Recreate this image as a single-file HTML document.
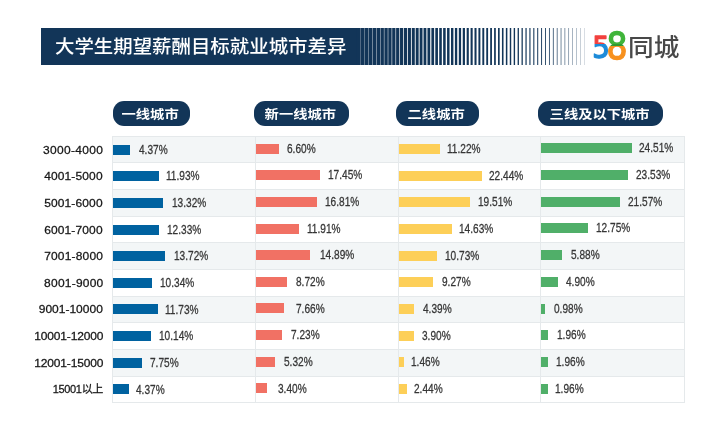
<!DOCTYPE html>
<html lang="zh-CN">
<head>
<meta charset="utf-8">
<title>大学生期望薪酬目标就业城市差异</title>
<style>
html,body{margin:0;padding:0;}
body{width:724px;height:429px;background:#fff;position:relative;overflow:hidden;font-family:"Liberation Sans","Noto Sans CJK SC",sans-serif;}
#wrap{position:absolute;left:0;top:0;width:724px;height:429px;will-change:transform;}
.abs{position:absolute;}
.banner{position:absolute;left:41px;top:27.5px;width:316px;height:37.5px;background:#123558;}
.title{position:absolute;left:55px;top:27.5px;height:37.5px;line-height:36.6px;color:#fff;font-size:19.43px;font-weight:500;white-space:nowrap;transform:scaleY(0.93);transform-origin:0 50%;}
.pill{position:absolute;top:101.3px;height:24.7px;border-radius:11px;background:#123558;}
.pill span{position:absolute;left:-1.3px;right:1.3px;top:0;height:24.7px;line-height:28.2px;color:#fff;font-size:14.3px;font-weight:700;text-align:center;white-space:nowrap;transform:scaleY(0.87);transform-origin:50% 50%;}
.row{position:absolute;left:112.5px;width:571.5px;box-sizing:border-box;border-top:1px solid #e5e9eb;}
.row.g{background:#f3f6f7;}
.vl{position:absolute;width:1px;background:#e5e9eb;}
.lab{position:absolute;right:620.6px;color:#161616;font-size:11px;line-height:14px;white-space:nowrap;text-align:right;-webkit-text-stroke:0.26px #161616;transform:scaleX(1.09);transform-origin:100% 50%;}
.bar{position:absolute;height:10px;}
.pct{position:absolute;color:#363636;font-size:13.3px;line-height:16px;white-space:nowrap;transform-origin:0 50%;transform:scaleX(0.76);-webkit-text-stroke:0.3px #363636;}
</style>
</head>
<body>
<div id="wrap">
<div class="banner"></div>
<svg class="abs" style="left:356px;top:27.5px" width="234" height="37.5" viewBox="356 0 234 37.5">
<rect x="356.90" y="0" width="3.77" height="37.5" fill="#123558"/><rect x="360.82" y="0" width="3.73" height="37.5" fill="#123558"/><rect x="364.74" y="0" width="3.68" height="37.5" fill="#123558"/><rect x="368.66" y="0" width="3.63" height="37.5" fill="#123558"/><rect x="372.58" y="0" width="3.58" height="37.5" fill="#123558"/><rect x="376.50" y="0" width="3.53" height="37.5" fill="#123558"/><rect x="380.42" y="0" width="3.47" height="37.5" fill="#123558"/><rect x="384.34" y="0" width="3.42" height="37.5" fill="#123558"/>
<rect x="388.26" y="0" width="3.36" height="37.5" fill="#123558"/><rect x="392.18" y="0" width="3.31" height="37.5" fill="#123558"/><rect x="396.10" y="0" width="3.25" height="37.5" fill="#123558"/><rect x="400.02" y="0" width="3.19" height="37.5" fill="#123558"/><rect x="403.94" y="0" width="3.13" height="37.5" fill="#123558"/><rect x="407.86" y="0" width="3.08" height="37.5" fill="#123558"/><rect x="411.78" y="0" width="3.02" height="37.5" fill="#123558"/><rect x="415.70" y="0" width="2.96" height="37.5" fill="#123558"/>
<rect x="419.62" y="0" width="2.90" height="37.5" fill="#123558"/><rect x="423.54" y="0" width="2.84" height="37.5" fill="#123558"/><rect x="427.46" y="0" width="2.78" height="37.5" fill="#123558"/><rect x="431.38" y="0" width="2.72" height="37.5" fill="#123558"/><rect x="435.30" y="0" width="2.65" height="37.5" fill="#123558"/><rect x="439.22" y="0" width="2.59" height="37.5" fill="#123558"/><rect x="443.14" y="0" width="2.53" height="37.5" fill="#123558"/><rect x="447.06" y="0" width="2.47" height="37.5" fill="#123558"/>
<rect x="450.98" y="0" width="2.41" height="37.5" fill="#123558"/><rect x="454.90" y="0" width="2.34" height="37.5" fill="#123558"/><rect x="458.82" y="0" width="2.28" height="37.5" fill="#123558"/><rect x="462.74" y="0" width="2.22" height="37.5" fill="#123558"/><rect x="466.66" y="0" width="2.15" height="37.5" fill="#123558"/><rect x="470.58" y="0" width="2.09" height="37.5" fill="#123558"/><rect x="474.50" y="0" width="2.03" height="37.5" fill="#123558"/><rect x="478.42" y="0" width="1.96" height="37.5" fill="#123558"/>
<rect x="482.34" y="0" width="1.90" height="37.5" fill="#123558"/><rect x="486.26" y="0" width="1.83" height="37.5" fill="#123558"/><rect x="490.18" y="0" width="1.77" height="37.5" fill="#123558"/><rect x="494.10" y="0" width="1.70" height="37.5" fill="#123558"/><rect x="498.02" y="0" width="1.64" height="37.5" fill="#123558"/><rect x="501.94" y="0" width="1.57" height="37.5" fill="#123558"/><rect x="505.86" y="0" width="1.51" height="37.5" fill="#123558"/><rect x="509.78" y="0" width="1.44" height="37.5" fill="#123558"/>
<rect x="513.70" y="0" width="1.38" height="37.5" fill="#123558"/><rect x="517.62" y="0" width="1.31" height="37.5" fill="#123558"/><rect x="521.54" y="0" width="1.25" height="37.5" fill="#123558"/><rect x="525.46" y="0" width="1.18" height="37.5" fill="#123558"/><rect x="529.38" y="0" width="1.11" height="37.5" fill="#123558"/><rect x="533.30" y="0" width="1.05" height="37.5" fill="#123558"/><rect x="537.22" y="0" width="0.98" height="37.5" fill="#123558"/><rect x="541.14" y="0" width="0.91" height="37.5" fill="#123558"/>
<rect x="545.06" y="0" width="0.85" height="37.5" fill="#123558"/><rect x="548.98" y="0" width="0.78" height="37.5" fill="#123558"/><rect x="552.90" y="0" width="0.71" height="37.5" fill="#123558"/><rect x="556.82" y="0" width="0.64" height="37.5" fill="#123558"/><rect x="560.74" y="0" width="0.58" height="37.5" fill="#123558"/><rect x="564.66" y="0" width="0.51" height="37.5" fill="#123558"/><rect x="568.58" y="0" width="0.44" height="37.5" fill="#123558"/><rect x="572.50" y="0" width="0.37" height="37.5" fill="#123558"/>
<rect x="576.42" y="0" width="0.31" height="37.5" fill="#123558"/><rect x="580.34" y="0" width="0.24" height="37.5" fill="#123558"/><rect x="584.26" y="0" width="0.17" height="37.5" fill="#123558"/></svg>
<div class="title">大学生期望薪酬目标就业城市差异</div>
<svg class="abs" style="left:588px;top:26px" width="100" height="40" viewBox="588 26 100 40">
<defs>
<linearGradient id="g5" gradientUnits="userSpaceOnUse" x1="0" y1="26" x2="0" y2="66"><stop offset="0.445" stop-color="#f2403d"/><stop offset="0.445" stop-color="#1d8bd9"/></linearGradient>
<linearGradient id="g8" gradientUnits="userSpaceOnUse" x1="0" y1="26" x2="0" y2="66"><stop offset="0.44" stop-color="#3fb43a"/><stop offset="0.44" stop-color="#2f9a30"/><stop offset="0.49" stop-color="#2f9a30"/><stop offset="0.49" stop-color="#f7911e"/></linearGradient>
</defs>
<text font-family="DejaVu Sans, sans-serif" stroke-width="1.4" stroke-linejoin="round"><tspan x="592.2" y="57.6" font-size="29.8" fill="url(#g5)" stroke="url(#g5)" textLength="17.6" lengthAdjust="spacingAndGlyphs">5</tspan><tspan x="606.4" y="59.3" font-size="36.4" fill="url(#g8)" stroke="url(#g8)" textLength="21" lengthAdjust="spacingAndGlyphs">8</tspan></text>
<text x="628.1" y="56.5" font-family="Liberation Sans, Noto Sans CJK SC, sans-serif" font-weight="500" font-size="25.7" fill="#484848" transform="translate(0,47) scale(1,0.93) translate(0,-47)">同城</text>
</svg>
<div class="pill" style="left:112.6px;width:77.6px"><span>一线城市</span></div>
<div class="pill" style="left:253.9px;width:95.5px"><span>新一线城市</span></div>
<div class="pill" style="left:395.9px;width:83.1px"><span>二线城市</span></div>
<div class="pill" style="left:538.4px;width:125.1px"><span>三线及以下城市</span></div>
<div class="row g" style="top:135.80px;height:26.66px"></div>
<div class="row" style="top:162.46px;height:26.66px"></div>
<div class="row g" style="top:189.12px;height:26.66px"></div>
<div class="row" style="top:215.78px;height:26.66px"></div>
<div class="row g" style="top:242.44px;height:26.66px"></div>
<div class="row" style="top:269.10px;height:26.66px"></div>
<div class="row g" style="top:295.76px;height:26.66px"></div>
<div class="row" style="top:322.42px;height:26.66px"></div>
<div class="row g" style="top:349.08px;height:26.66px"></div>
<div class="row" style="top:375.74px;height:26.66px"></div>
<div class="row" style="top:402.40px;height:1px"></div>
<div class="vl" style="left:112.0px;top:135.80px;height:267.60px"></div>
<div class="vl" style="left:254.5px;top:135.80px;height:267.60px"></div>
<div class="vl" style="left:397.5px;top:135.80px;height:267.60px"></div>
<div class="vl" style="left:540.0px;top:135.80px;height:267.60px"></div>
<div class="vl" style="left:683.5px;top:135.80px;height:267.60px"></div>
<div class="lab" style="top:142.53px;letter-spacing:0.30px;right:620.60px">3000-4000</div>
<div class="bar" style="left:113.0px;top:144.55px;width:16.7px;background:#0062a0"></div><div class="pct" style="left:139.20px;top:141.65px">4.37%</div>
<div class="bar" style="left:255.5px;top:143.65px;width:23.9px;background:#f17164"></div><div class="pct" style="left:286.70px;top:140.75px">6.60%</div>
<div class="bar" style="left:398.8px;top:143.95px;width:40.9px;background:#fdcf58"></div><div class="pct" style="left:446.90px;top:141.05px">11.22%</div>
<div class="bar" style="left:541.3px;top:143.20px;width:90.8px;background:#50af69"></div><div class="pct" style="left:639.10px;top:140.30px">24.51%</div>
<div class="lab" style="top:169.19px;letter-spacing:0.12px;right:621.30px">4001-5000</div>
<div class="bar" style="left:113.0px;top:171.21px;width:45.7px;background:#0062a0"></div><div class="pct" style="left:166.20px;top:168.31px">11.93%</div>
<div class="bar" style="left:255.5px;top:170.29px;width:64.5px;background:#f17164"></div><div class="pct" style="left:328.40px;top:167.39px">17.45%</div>
<div class="bar" style="left:398.8px;top:170.62px;width:83.2px;background:#fdcf58"></div><div class="pct" style="left:489.10px;top:167.72px">22.44%</div>
<div class="bar" style="left:541.3px;top:169.92px;width:86.9px;background:#50af69"></div><div class="pct" style="left:635.80px;top:167.02px">23.53%</div>
<div class="lab" style="top:195.85px;letter-spacing:0.12px;right:621.30px">5001-6000</div>
<div class="bar" style="left:113.0px;top:197.86px;width:50.3px;background:#0062a0"></div><div class="pct" style="left:171.70px;top:194.96px">13.32%</div>
<div class="bar" style="left:255.5px;top:196.93px;width:61.3px;background:#f17164"></div><div class="pct" style="left:324.60px;top:194.03px">16.81%</div>
<div class="bar" style="left:398.8px;top:197.29px;width:71.1px;background:#fdcf58"></div><div class="pct" style="left:478.30px;top:194.39px">19.51%</div>
<div class="bar" style="left:541.3px;top:196.64px;width:78.7px;background:#50af69"></div><div class="pct" style="left:628.00px;top:193.74px">21.57%</div>
<div class="lab" style="top:222.51px;letter-spacing:0.12px;right:621.30px">6001-7000</div>
<div class="bar" style="left:113.0px;top:224.52px;width:45.7px;background:#0062a0"></div><div class="pct" style="left:166.60px;top:221.62px">12.33%</div>
<div class="bar" style="left:255.5px;top:223.57px;width:43.7px;background:#f17164"></div><div class="pct" style="left:306.60px;top:220.67px">11.91%</div>
<div class="bar" style="left:398.8px;top:223.96px;width:53.4px;background:#fdcf58"></div><div class="pct" style="left:459.20px;top:221.06px">14.63%</div>
<div class="bar" style="left:541.3px;top:223.36px;width:46.6px;background:#50af69"></div><div class="pct" style="left:595.70px;top:220.46px">12.75%</div>
<div class="lab" style="top:249.17px;letter-spacing:0.17px;right:620.80px">7001-8000</div>
<div class="bar" style="left:113.0px;top:251.17px;width:52.4px;background:#0062a0"></div><div class="pct" style="left:173.70px;top:248.27px">13.72%</div>
<div class="bar" style="left:255.5px;top:250.21px;width:54.9px;background:#f17164"></div><div class="pct" style="left:319.60px;top:247.31px">14.89%</div>
<div class="bar" style="left:398.8px;top:250.63px;width:38.7px;background:#fdcf58"></div><div class="pct" style="left:444.60px;top:247.73px">10.73%</div>
<div class="bar" style="left:541.3px;top:250.08px;width:20.9px;background:#50af69"></div><div class="pct" style="left:570.60px;top:247.18px">5.88%</div>
<div class="lab" style="top:275.83px;letter-spacing:0.21px;right:620.60px">8001-9000</div>
<div class="bar" style="left:113.0px;top:277.83px;width:39.0px;background:#0062a0"></div><div class="pct" style="left:159.90px;top:274.93px">10.34%</div>
<div class="bar" style="left:255.5px;top:276.85px;width:31.4px;background:#f17164"></div><div class="pct" style="left:296.00px;top:273.95px">8.72%</div>
<div class="bar" style="left:398.8px;top:277.30px;width:34.1px;background:#fdcf58"></div><div class="pct" style="left:441.80px;top:274.40px">9.27%</div>
<div class="bar" style="left:541.3px;top:276.80px;width:16.7px;background:#50af69"></div><div class="pct" style="left:565.80px;top:273.90px">4.90%</div>
<div class="lab" style="top:302.49px;letter-spacing:0.01px;right:621.10px">9001-10000</div>
<div class="bar" style="left:113.0px;top:304.48px;width:44.8px;background:#0062a0"></div><div class="pct" style="left:164.90px;top:301.58px">11.73%</div>
<div class="bar" style="left:255.5px;top:303.49px;width:28.1px;background:#f17164"></div><div class="pct" style="left:295.50px;top:300.59px">7.66%</div>
<div class="bar" style="left:398.8px;top:303.97px;width:15.7px;background:#fdcf58"></div><div class="pct" style="left:422.70px;top:301.07px">4.39%</div>
<div class="bar" style="left:541.3px;top:303.52px;width:3.4px;background:#50af69"></div><div class="pct" style="left:553.80px;top:300.62px">0.98%</div>
<div class="lab" style="top:329.15px;letter-spacing:-0.15px;right:621.00px">10001-12000</div>
<div class="bar" style="left:113.0px;top:331.13px;width:38.1px;background:#0062a0"></div><div class="pct" style="left:159.10px;top:328.24px">10.14%</div>
<div class="bar" style="left:255.5px;top:330.13px;width:26.1px;background:#f17164"></div><div class="pct" style="left:291.40px;top:327.23px">7.23%</div>
<div class="bar" style="left:398.8px;top:330.64px;width:15.2px;background:#fdcf58"></div><div class="pct" style="left:422.20px;top:327.74px">3.90%</div>
<div class="bar" style="left:541.3px;top:330.24px;width:6.6px;background:#50af69"></div><div class="pct" style="left:556.70px;top:327.34px">1.96%</div>
<div class="lab" style="top:355.81px;letter-spacing:-0.15px;right:621.00px">12001-15000</div>
<div class="bar" style="left:113.0px;top:357.79px;width:29.2px;background:#0062a0"></div><div class="pct" style="left:150.40px;top:354.89px">7.75%</div>
<div class="bar" style="left:255.5px;top:356.77px;width:19.7px;background:#f17164"></div><div class="pct" style="left:283.70px;top:353.87px">5.32%</div>
<div class="bar" style="left:398.8px;top:357.31px;width:5.4px;background:#fdcf58"></div><div class="pct" style="left:411.00px;top:354.41px">1.46%</div>
<div class="bar" style="left:541.3px;top:356.96px;width:6.6px;background:#50af69"></div><div class="pct" style="left:555.90px;top:354.06px">1.96%</div>
<div class="lab" style="top:382.47px;letter-spacing:-0.32px;right:621.00px;transform:none">15001以上</div>
<div class="bar" style="left:113.0px;top:384.45px;width:15.8px;background:#0062a0"></div><div class="pct" style="left:135.80px;top:381.55px">4.37%</div>
<div class="bar" style="left:255.5px;top:383.41px;width:11.8px;background:#f17164"></div><div class="pct" style="left:277.80px;top:380.51px">3.40%</div>
<div class="bar" style="left:398.8px;top:383.98px;width:8.5px;background:#fdcf58"></div><div class="pct" style="left:413.80px;top:381.08px">2.44%</div>
<div class="bar" style="left:541.3px;top:383.68px;width:6.6px;background:#50af69"></div><div class="pct" style="left:555.00px;top:380.78px">1.96%</div>
</div>
</body>
</html>
